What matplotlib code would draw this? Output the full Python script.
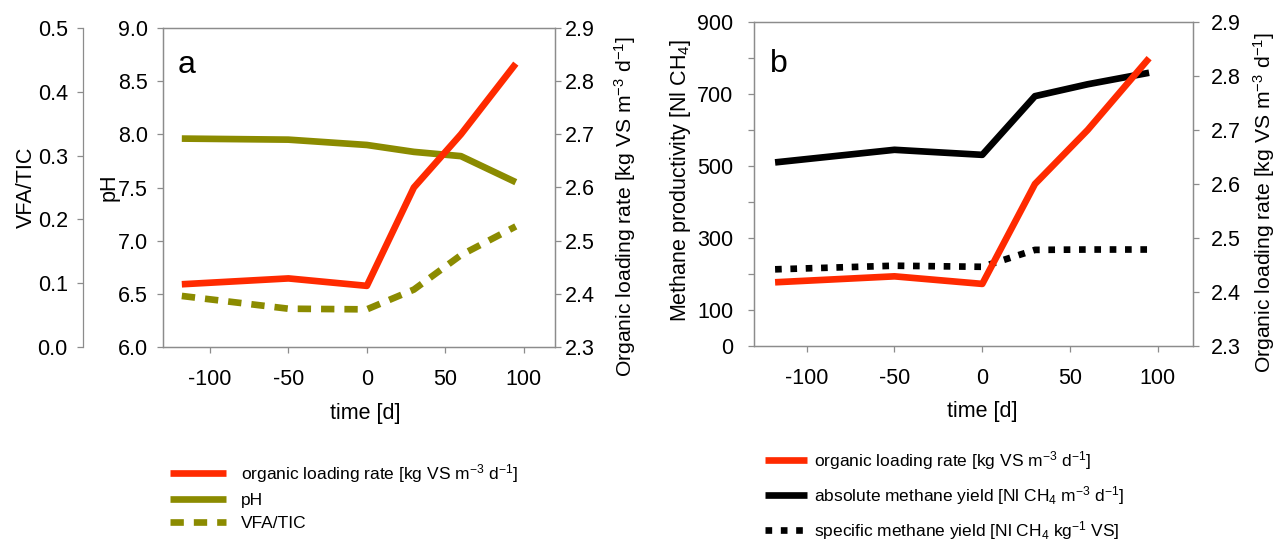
import matplotlib
matplotlib.use("Agg")
import matplotlib.pyplot as plt

# data
time_d = [-118, -50, 0, 30, 60, 95]
olr = [2.418, 2.429, 2.415, 2.600, 2.700, 2.833]      # organic loading rate
ph = [7.96, 7.95, 7.90, 7.835, 7.795, 7.55]
vfa_tic = [0.080, 0.060, 0.059, 0.090, 0.144, 0.189]
abs_yield = [510, 545, 531, 694, 727, 759]
spec_yield = [213, 223, 220, 267, 268, 268]

ph_ticks = [6.0, 6.5, 7.0, 7.5, 8.0, 8.5, 9.0]
vfa_ticks = [0.0, 0.1, 0.2, 0.3, 0.4, 0.5]
olr_ticks = [2.3, 2.4, 2.5, 2.6, 2.7, 2.8, 2.9]
meth_ticks = list(range(0, 1000, 100))
meth_labels = ["0", "100", "", "300", "", "500", "", "700", "", "900"]
time_ticks = [-100, -50, 0, 50, 100]

plt.rcParams['font.family'] = ['Liberation Sans Narrow', 'Liberation Sans', 'DejaVu Sans']
plt.rcParams['mathtext.default'] = 'regular'
plt.rcParams['axes.unicode_minus'] = False

RED = '#ff2a00'
OLIVE = '#8b8b00'
GREY = '#8c8c8c'
W, H = 1277, 543
TS = 15.5   # tick label size
LS = 15.5   # axis label size

fig = plt.figure(figsize=(W / 100, H / 100), dpi=100)


def style(ax):
    for s in ax.spines.values():
        s.set_color(GREY)
        s.set_linewidth(0.9)
    ax.tick_params(axis='both', direction='out', length=4, width=0.9,
                   color=GREY, labelsize=TS)


# ---------- panel a ----------
ax = fig.add_axes([163 / W, 1 - 347 / H, (555 - 163) / W, (347 - 28) / H])
ax_v = ax.twinx()
ax_r = ax.twinx()
for a in (ax, ax_v, ax_r):
    style(a)

ln_ph, = ax.plot(time_d, ph, color=OLIVE, lw=4.8, solid_capstyle='butt', label='pH')
ax.set_ylim(6.0, 9.0)
ax.set_yticks(ph_ticks)
ax.set_yticklabels([f"{t:.1f}" for t in ph_ticks])
ax.set_xlim(-130, 120)
ax.set_xticks(time_ticks)
ax.tick_params(axis='x', pad=12)
ax.tick_params(axis='y', pad=7)
ax.set_ylabel('pH', fontsize=LS)
ax.yaxis.set_label_coords(-0.112, 0.5)
ax.set_xlabel('time [d]', fontsize=LS)
ax.xaxis.set_label_coords(0.515, -0.175)
ax.text(0.038, 0.885, 'a', transform=ax.transAxes, fontsize=23, va='center')

ln_vfa, = ax_v.plot(time_d, vfa_tic, color=OLIVE, lw=4.8, dash_capstyle='butt',
                    linestyle=(0, (2.0, 1.5)), label='VFA/TIC')
ax_v.set_ylim(0.0, 0.5)
ax_v.set_yticks(vfa_ticks)
ax_v.set_yticklabels([f"{t:.1f}" for t in vfa_ticks])
ax_v.spines['left'].set_position(('axes', -0.204))
ax_v.spines['left'].set_visible(True)
for s in ('right', 'top', 'bottom'):
    ax_v.spines[s].set_visible(False)
ax_v.yaxis.set_ticks_position('left')
ax_v.yaxis.set_label_position('left')
ax_v.tick_params(axis='y', pad=7)
ax_v.set_ylabel('VFA/TIC', fontsize=LS)
ax_v.yaxis.set_label_coords(-0.322, 0.5)

ln_olr, = ax_r.plot(time_d, olr, color=RED, lw=4.8, solid_capstyle='butt',
                    label='organic loading rate [kg VS m$^{-3}$ d$^{-1}$]')
ax_r.set_ylim(2.3, 2.9)
ax_r.set_yticks(olr_ticks)
ax_r.set_yticklabels([f"{t:.1f}" for t in olr_ticks])
ax_r.tick_params(axis='y', pad=3)
ax_r.set_ylabel('Organic loading rate [kg VS m$^{-3}$ d$^{-1}$]', fontsize=15.2)
ax_r.yaxis.set_label_coords(1.145, 0.44)

fig.legend(handles=[ln_olr, ln_ph, ln_vfa], loc='upper left',
           bbox_to_anchor=(170 / W, 1 - 462 / H), frameon=False, fontsize=12.5,
           borderpad=0, borderaxespad=0, handlelength=3.2, handletextpad=0.9,
           labelspacing=0.45)

# ---------- panel b ----------
bx = fig.add_axes([754 / W, 1 - 346 / H, (1193 - 754) / W, (346 - 22) / H])
bx_r = bx.twinx()
style(bx)
style(bx_r)

ln_abs, = bx.plot(time_d, abs_yield, color='black', lw=4.8, solid_capstyle='butt',
                  label='absolute methane yield [Nl CH$_4$ m$^{-3}$ d$^{-1}$]')
ln_spec, = bx.plot(time_d, spec_yield, color='black', lw=4.8, dash_capstyle='butt',
                   linestyle=(0, (1.0, 1.3)),
                   label='specific methane yield [Nl CH$_4$ kg$^{-1}$ VS]')
bx.set_ylim(0, 900)
bx.set_yticks(meth_ticks)
bx.set_yticklabels(meth_labels)
bx.set_xlim(-130, 120)
bx.set_xticks(time_ticks)
bx.tick_params(axis='x', pad=12)
bx.tick_params(axis='y', pad=11)
bx.set_ylabel('Methane productivity [Nl CH$_4$]', fontsize=15.5)
bx.yaxis.set_label_coords(-0.139, 0.512)
bx.set_xlabel('time [d]', fontsize=LS)
bx.xaxis.set_label_coords(0.52, -0.17)
bx.text(0.036, 0.87, 'b', transform=bx.transAxes, fontsize=23, va='center')

ln_olr_b, = bx_r.plot(time_d, olr, color=RED, lw=4.8, solid_capstyle='butt',
                      label='organic loading rate [kg VS m$^{-3}$ d$^{-1}$]')
bx_r.set_ylim(2.3, 2.9)
bx_r.set_yticks(olr_ticks)
bx_r.set_yticklabels([f"{t:.1f}" for t in olr_ticks])
bx_r.tick_params(axis='y', pad=9)
bx_r.set_ylabel('Organic loading rate [kg VS m$^{-3}$ d$^{-1}$]', fontsize=15.2)
bx_r.yaxis.set_label_coords(1.132, 0.444)

fig.legend(handles=[ln_olr_b, ln_abs, ln_spec], loc='upper left',
           bbox_to_anchor=(765 / W, 1 - 449 / H), frameon=False, fontsize=12.5,
           borderpad=0, borderaxespad=0, handlelength=2.4, handletextpad=0.45,
           labelspacing=0.7)

fig.savefig('out.png', dpi=100)
